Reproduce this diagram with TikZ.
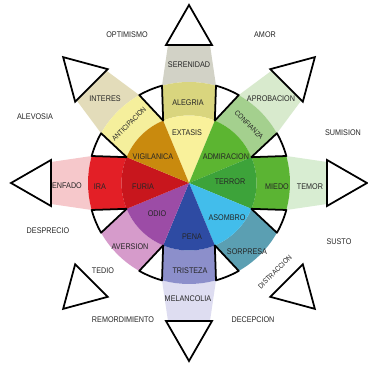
\documentclass[tikz,border=0pt]{standalone}
\usepackage{fontspec}
\newfontfamily\lblfont[FakeStretch=0.88]{Liberation Sans}
\definecolor{extasis}{HTML}{F9F19B}
\definecolor{admiracion}{HTML}{5CB531}
\definecolor{terror}{HTML}{3DA33A}
\definecolor{asombro}{HTML}{42BDEB}
\definecolor{pena}{HTML}{2E4BA3}
\definecolor{odio}{HTML}{9C4CA6}
\definecolor{furia}{HTML}{C8161D}
\definecolor{vigilancia}{HTML}{C98A0E}
\definecolor{alegria}{HTML}{D9D57E}
\definecolor{confianza}{HTML}{A4D08E}
\definecolor{miedo}{HTML}{5BB433}
\definecolor{sorpresa}{HTML}{5B9FB2}
\definecolor{tristeza}{HTML}{8C8FCB}
\definecolor{aversion}{HTML}{D69BCB}
\definecolor{ira}{HTML}{E31F26}
\definecolor{anticipacion}{HTML}{F5EF9C}
\definecolor{serenidad}{HTML}{D2D2C6}
\definecolor{aprobacion}{HTML}{D8EACD}
\definecolor{temor}{HTML}{D8EDD2}
\definecolor{melancolia}{HTML}{DEDDF1}
\definecolor{enfado}{HTML}{F6C8CB}
\definecolor{interes}{HTML}{E3DCBA}
\begin{document}
\begin{tikzpicture}[x=0.03cm,y=0.03cm,
  lbl/.style={font=\lblfont\fontsize{7}{8}\selectfont,text=black!85,inner sep=0pt},
  rlbl/.style={lbl,font=\lblfont\fontsize{6.2}{7}\selectfont},
  gapline/.style={draw=black,line width=1.5pt,fill=white,line join=round},
  tri/.style={draw=black,line width=1.5pt,fill=white,line join=miter}]
\fill[white] (-189,-187) rectangle (178,183);
\useasboundingbox (-189,-187) rectangle (178,183);

% petals: middle and outer bands, triangle at the tip
\foreach \a/\cm/\co in {90/alegria/serenidad,45/confianza/aprobacion,0/miedo/temor,-45/sorpresa/white,-90/tristeza/melancolia,-135/aversion/white,180/ira/enfado,135/anticipacion/interes}{
  \begin{scope}[rotate=\a]
    \fill[\co] (-15.5:101) -- (138,-21) -- (138,21) -- (15.5:101) arc[start angle=15.5,end angle=-15.5,radius=101] -- cycle;
    \fill[\cm] (-22.5:67.5) -- (-15.5:101) arc[start angle=-15.5,end angle=15.5,radius=101] -- (22.5:67.5) arc[start angle=22.5,end angle=-22.5,radius=67.5] -- cycle;
    \filldraw[tri] (138,-23) -- (178,0) -- (138,23) -- cycle;
  \end{scope}
}

% inner disk
\foreach \a/\c in {90/extasis,45/admiracion,0/terror,-45/asombro,-90/pena,-135/odio,180/furia,135/vigilancia}
  \fill[\c] (0,0) -- (\a-22.5:67.5) arc[start angle=\a-22.5,end angle=\a+22.5,radius=67.5] -- cycle;

% white gaps between petals
\foreach \a in {0,45,...,315}
  \filldraw[gapline] (\a+22.5:67.5) -- (\a+15.5:101) arc[start angle=\a+15.5,end angle=\a+29.5,radius=101] -- cycle;

%%%%%%%% inner
\node[lbl] (extasis) at (-2,50) {EXTASIS};
\node[lbl] (admiracion) at (37,26) {ADMIRACION};
\node[lbl] (terror) at (41,1) {TERROR};
\node[lbl] (asombro) at (38,-35) {ASOMBRO};
\node[lbl] (pena) at (3,-54) {PENA};
\node[lbl] (odio) at (-32,-31) {ODIO};
\node[lbl] (furia) at (-46,-4) {FURIA};
\node[lbl] (vigilancia) at (-36,26) {VIGILANICA};
%%%%%%%% middle
\node[lbl] (alegria) at (-1,80) {ALEGRIA};
\node[rlbl,rotate=-45] (confianza) at (60,58) {CONFIANZA};
\node[lbl] (miedo) at (88,-4) {MIEDO};
\node[lbl] (sorpresa) at (58,-69) {SORPRESA};
\node[lbl] (tristeza) at (1,-88) {TRISTEZA};
\node[lbl] (aversion) at (-59,-64) {AVERSION};
\node[lbl] (ira) at (-89,-4) {IRA};
\node[rlbl,rotate=45] (anticipacion) at (-60,59) {ANTICIPACION};
%%%%%%%% outer
\node[lbl] (serenidad) at (0,118) {SERENIDAD};
\node[lbl] (aprobacion) at (82,84) {APROBACION};
\node[lbl] (temor) at (121,-4) {TEMOR};
\node[rlbl,rotate=45] (distraccion) at (86,-89) {DISTRACCION};
\node[lbl] (melancolia) at (-1,-116) {MELANCOLIA};
\node[lbl] (tedio) at (-86,-88) {TEDIO};
\node[lbl] (enfado) at (-122,-3) {ENFADO};
\node[lbl] (interes) at (-84,84) {INTERES};
%%%%%%%% dyads
\node[lbl] (optimismo) at (-62,148) {OPTIMISMO};
\node[lbl] (amor) at (76,148) {AMOR};
\node[lbl] (sumision) at (154,50) {SUMISION};
\node[lbl] (susto) at (150,-59) {SUSTO};
\node[lbl] (decepcion) at (64,-137) {DECEPCION};
\node[lbl] (remordimiento) at (-66,-137) {REMORDIMIENTO};
\node[lbl] (desprecio) at (-141,-48) {DESPRECIO};
\node[lbl] (alevosia) at (-154,66) {ALEVOSIA};

\end{tikzpicture}
\end{document}
